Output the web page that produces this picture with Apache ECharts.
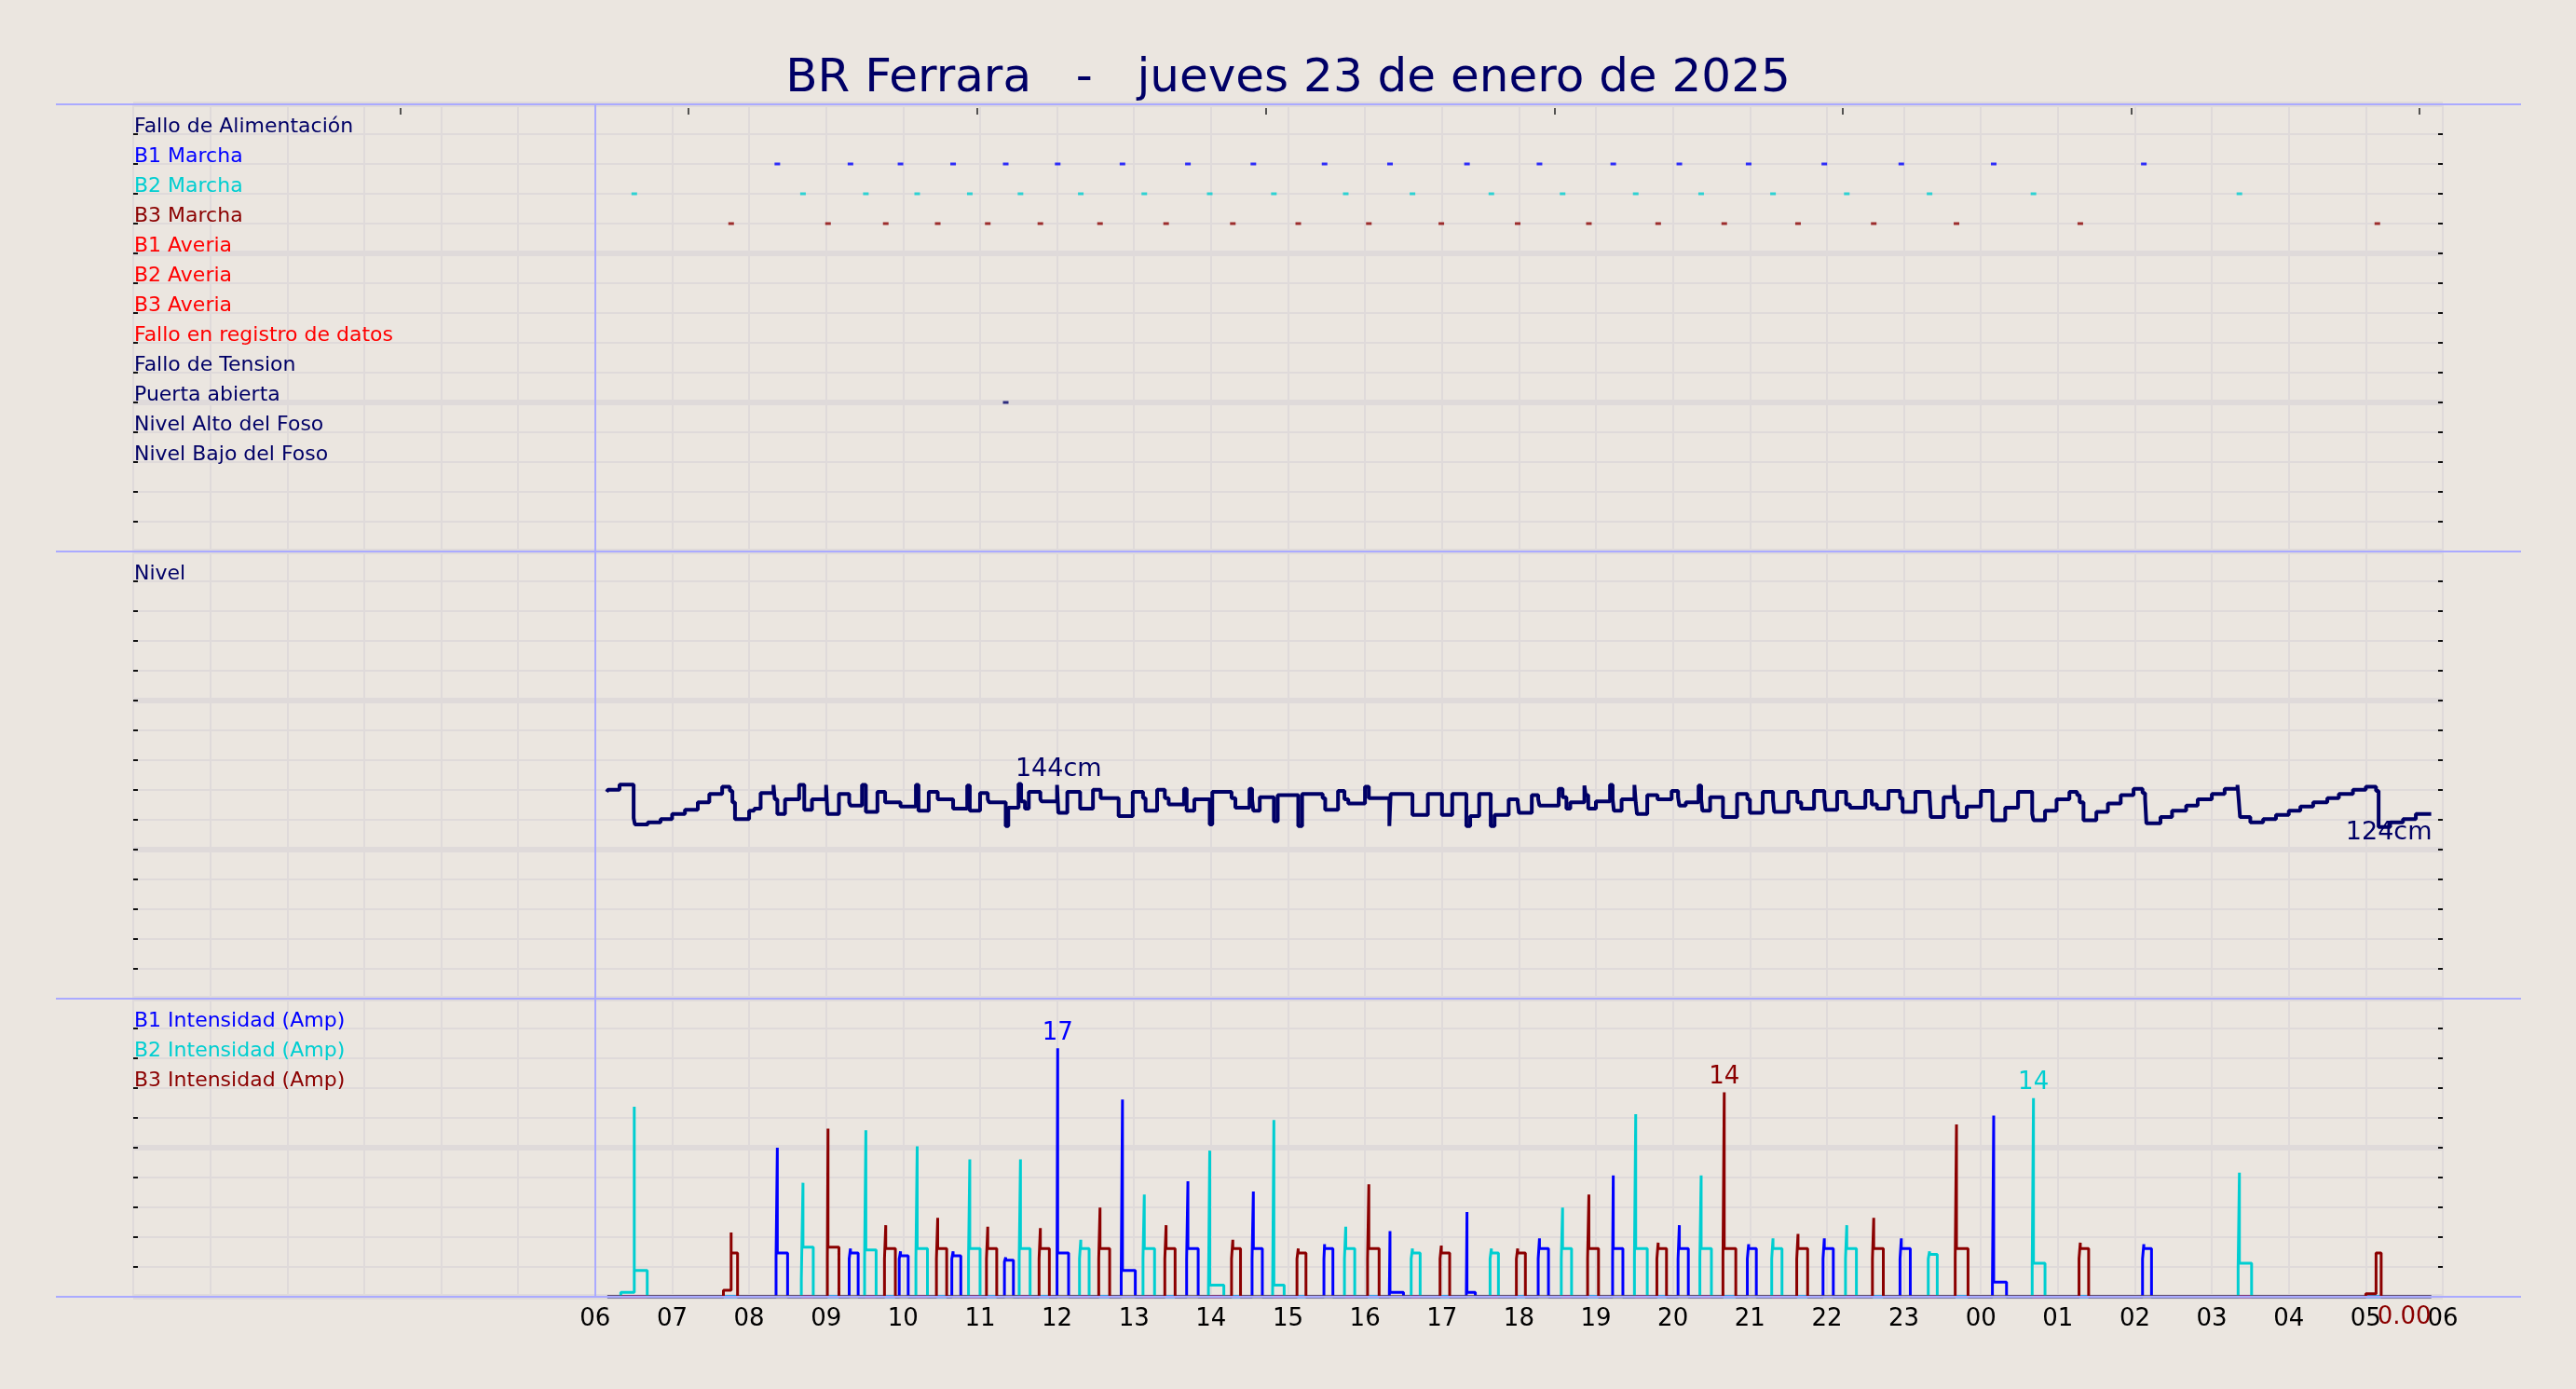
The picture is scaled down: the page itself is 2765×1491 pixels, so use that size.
<!DOCTYPE html>
<html>
<head>
<meta charset="utf-8">
<script src="https://cdn.jsdelivr.net/npm/echarts@6/dist/echarts.min.js"></script>
<style>
html,body{margin:0;padding:0;background:#EBE6E0;}
#c{width:2765px;height:1491px;}
</style>
</head>
<body>
<div id="c"></div>
<script>
// ---------------- DATA (times in minutes from 00:00 of 23/01/2025) ----------------
const titleText = 'BR Ferrara   -   jueves 23 de enero de 2025';

const eventRows = ['Fallo de Alimentación','B1 Marcha','B2 Marcha','B3 Marcha','B1 Averia','B2 Averia','B3 Averia',
  'Fallo en registro de datos','Fallo de Tension','Puerta abierta','Nivel Alto del Foso','Nivel Bajo del Foso'];
const eventRowColors = ['#000066','#0000FF','#00CED1','#8B0000','#FF0000','#FF0000','#FF0000',
  '#FF0000','#000066','#000066','#000066','#000066'];

const b1MarchaT = [502,559,598,639,680,720.5,771,822,873,928.5,979.5,1039.5,1096,1153.5,1205,1259,1318,1378,1450,1567];
const b2MarchaT = [390.5,522,571,611,652,691.5,738.5,788,839,889,945,997,1058.5,1114,1171,1222,1278,1335.5,1400,1481,1641.5];
const b3MarchaT = [466,541.5,586.5,627,666,707,753.5,805,857,908,963,1019.5,1079,1134.5,1188.5,1240,1297.5,1356.5,1421,1517.5,1749];
const puertaT = [680];

const nivelLabel = 'Nivel';
// [minute, level cm] : each level holds until the next point
const nivelData = [
[369,140.5],[370,141.5],[379,144],[390,128],[391,125],[401,126],[411,127.5],[420,130],[430,132],[440,135.5],
[449,139.5],[459,143],[465,141],[467,135.5],[469,127.5],[480,131.5],[484,132.5],[489,140],[499,143.8],[500,137],
[502,130],[508,137],[519,143.8],[523,132],[529,137],[540,143.8],[541,130],[550,139.5],[558,135.5],[559,134],
[568,143.8],[571,131],[580,140.5],[586,135.5],[598,133.5],[610,143.8],[612,131.5],[620,140.5],[627,137],[639,132.5],
[650,143.5],[652,131.5],[660,140],[666,137],[667,135.5],[680,124.2],[682,133],[690,144.3],[692,136],[695,132.5],
[698,140.5],[707,137],[708,136],[720,143.8],[721,130.5],[728,140.5],[738,132.5],[748,141.5],[754,137.5],[768,129],
[779,140.5],[787,137.5],[789,131.5],[798,141.5],[804,137.5],[807,134.5],[819,142],[821,131.5],[827,137],[839,125],
[841,140.5],[856,137.5],[859,133],[870,142],[872,137],[873,131.5],[878,138],[889,126.5],[892,139],[908,124.2],
[911,139.5],[927,137.5],[929,132],[939,141],[944,137],[947,135],[960,143],[963,137.5],[979,124.2],[980,139.5],
[997,129.5],[1009,139.5],[1020,129.5],[1028,139.5],[1039,124.2],[1042,129],[1049,139.5],[1058,124.2],[1061,129.5],[1072,137],
[1079,135.5],[1080,130.5],[1090,139],[1095,137],[1096,134],[1111,142],[1114,138],[1117,132.5],[1120,135.5],[1131,143.5],
[1132,139],[1134,132.5],[1140,136],[1151,143.8],[1153,137],[1154,131.5],[1160,137],[1170,143.8],[1171,135.5],[1172,130],
[1180,139],[1188,137],[1199,141],[1204,138],[1205,134],[1210,135.5],[1220,143.5],[1222,137],[1223,131.5],[1229,138],
[1239,128.5],[1250,139.5],[1258,137],[1260,130.5],[1270,140.5],[1278,136.5],[1279,131],[1290,140.5],[1297,135.5],[1300,132.5],
[1310,141],[1318,137],[1319,132],[1328,140.5],[1335,134.5],[1338,133],[1350,141],[1355,134.5],[1359,132.5],[1368,141],
[1377,137.5],[1379,131],[1389,140.5],[1400,139],[1401,128.5],[1411,138],[1419,143.8],[1420,135.5],[1422,128.5],[1429,133.5],
[1440,141],[1449,127],[1459,133],[1469,140.5],[1480,130],[1481,127],[1490,131.5],[1499,137],[1509,140.5],[1515,139],
[1517,135.5],[1520,127],[1530,131],[1539,135],[1549,139],[1559,142],[1566,140],[1568,137],[1569,125.5],[1580,128.5],
[1589,131.5],[1600,134],[1609,137],[1620,139.5],[1630,142],[1640,143.8],[1641,136.5],[1642,128.5],[1650,126],[1660,127.5],
[1670,129.5],[1680,131.5],[1689,133.5],[1699,135.5],[1710,137.5],[1719,139.5],[1730,141.5],[1740,143],[1748,141],[1750,123.8],
[1759,126],[1769,127.5],[1779,130],[1791,130]
];
const nivelMaxAt = 690;   // point carrying the "144cm" label
const nivelMinAt = 1750;  // point carrying the "124cm" label

const intensLabels = ['B1 Intensidad (Amp)','B2 Intensidad (Amp)','B3 Intensidad (Amp)'];
const intensStart = 369.5, intensEnd = 1791;
// pulses: [preStart, preValue, peakTime, peakValue, runValue, stopTime]
const b1Pulses = [
[501,2.7,502,10.2,3.0,510],[558,2.6,559,3.3,3.0,565],[597,2.6,598,3.1,2.8,604],[638,2.6,639,3.1,2.8,645],
[679,2.4,680,2.7,2.5,686],[720,2.8,720.5,17.0,3.0,729],[770,1.5,771,13.5,1.8,781],[821,2.6,822,7.9,3.3,830],
[872,2.6,873,7.2,3.3,880],[928,2.6,928.5,3.6,3.3,935],[979,0.3,979.5,4.5,0.3,990],[1039,0.3,1039.5,5.8,0.3,1046],
[1095,2.6,1096,4.0,3.3,1103],[1153,2.6,1153.5,8.3,3.3,1161],[1204,2.6,1205,4.9,3.3,1212],[1258,2.6,1259,3.6,3.3,1265],
[1317,2.6,1318,4.0,3.3,1325],[1377,2.6,1378,4.0,3.3,1385],[1449,0.8,1450,12.4,1.0,1460],[1566,2.6,1567,3.6,3.3,1573]
];
const b2Pulses = [
[380,0.3,390.5,13.0,1.8,400.6],[520.7,1.2,522,7.8,3.4,530],[570,2.6,571,11.4,3.2,579],[610,2.6,611,10.3,3.3,619],
[651,2.6,652,9.4,3.3,660],[690.5,2.6,691.5,9.4,3.3,699],[737.5,2.6,738.5,3.9,3.3,745],[787,2.6,788,7.0,3.3,796],
[838,0.5,839,10.0,0.8,850],[888,0.5,889,12.1,0.8,897],[944,2.6,945,4.8,3.3,952],[996,2.6,997,3.3,3.0,1003],
[1057.5,2.6,1058.5,3.3,3.0,1064],[1113,2.6,1114,6.1,3.3,1121],[1170,2.6,1171,12.5,3.3,1180],[1221,2.6,1222,8.3,3.3,1230],
[1277,2.6,1278,4.0,3.3,1285],[1334.5,2.6,1335.5,4.9,3.3,1343],[1399,2.6,1400,3.1,2.9,1406],[1480,2.0,1481,13.6,2.3,1490],
[1640.5,2.0,1641.5,8.5,2.3,1651]
];
const b3Pulses = [
[460,0.45,466,4.4,3.0,471],[541,2.5,541.5,11.5,3.4,550],[585.5,2.6,586.5,4.9,3.3,594],[626,2.6,627,5.4,3.3,634],
[665,2.6,666,4.8,3.3,673],[706,2.6,707,4.7,3.3,714],[752.5,2.6,753.5,6.1,3.3,761],[804,2.6,805,4.9,3.3,812],
[856,2.6,857,3.9,3.3,863],[907,2.6,908,3.3,3.0,914],[962,2.6,963,7.7,3.3,971],[1018.5,2.6,1019.5,3.5,3.0,1026],
[1078,2.6,1079,3.3,3.0,1085],[1133.5,2.6,1134.5,7.0,3.3,1142],[1187.5,2.6,1188.5,3.7,3.3,1195],[1239,2.6,1240,14.0,3.3,1249],
[1296.5,2.6,1297.5,4.3,3.3,1305],[1355.5,2.6,1356.5,5.4,3.3,1364],[1420,2.6,1421,11.8,3.3,1430],[1516.5,2.6,1517.5,3.7,3.3,1524],
[1740,0.2,1748,3.0,3.0,1752]
];
const topTickT = [208,432.5,658,883,1107.5,1332,1557,1781.5];

// ---------------- STYLE ----------------
const BG='#EBE6E0', GRIDC='#DFDADA', SEP='#AAAAFF', NAVY='#000066', BLUE='#0000FF', CYAN='#00CED1', DRED='#8B0000';
const FONT='DejaVu Sans';
const X0=143, X1=2622;

function pulsesToLine(pulses){
  const pts=[[intensStart,0]];
  for(const p of pulses){ pts.push([p[0],p[1]],[p[2],p[3]],[p[2],p[4]],[p[5],0]); }
  pts.push([intensEnd,0]);
  return pts;
}
function levelAt(t){ const p=nivelData.find(d=>d[0]===t); return p?p[1]:null; }

function rowAxes(g, rows, labels, colors, fs){
  const rich={};
  labels.forEach((l,i)=>{ rich['r'+i]={color:colors[i],fontSize:fs,fontFamily:FONT,lineHeight:16}; });
  return [
    {type:'value',gridIndex:g,min:0,max:rows,interval:1,inverse:true,position:'left',
     axisLine:{show:false,onZero:false},axisTick:{show:true,inside:true,length:5,lineStyle:{color:'#111',width:2}},
     axisLabel:{show:true,inside:true,margin:1,verticalAlign:'bottom',
       formatter:(v)=>{const i=Math.round(v)-1; return (i>=0&&labels[i])?('{r'+i+'|'+labels[i]+'}'):'';},rich:rich},
     splitLine:{show:true,lineStyle:{color:GRIDC,width:2}}},
    {type:'value',gridIndex:g,min:0,max:rows,interval:1,inverse:true,position:'right',
     axisLine:{show:false,onZero:false},axisTick:{show:true,inside:true,length:5,lineStyle:{color:'#111',width:2}},
     axisLabel:{show:false},splitLine:{show:false}},
    {type:'value',gridIndex:g,min:0,max:rows,interval:5,inverse:true,position:'left',
     axisLine:{show:false,onZero:false},axisTick:{show:false},axisLabel:{show:false},
     splitLine:{show:true,lineStyle:{color:GRIDC,width:6}}}
  ];
}

const yAxes = [].concat(
  rowAxes(0,15,eventRows,eventRowColors,22),                       // 0,1,2
  rowAxes(1,15,[nivelLabel],[NAVY],22),                            // 3,4,5
  [{type:'value',gridIndex:1,min:42,max:255,show:false,axisLine:{onZero:false}}],   // 6
  rowAxes(2,10,intensLabels,[BLUE,CYAN,DRED],22),                  // 7,8,9
  [{type:'value',gridIndex:2,min:0,max:20.4,show:false,axisLine:{onZero:false}}]    // 10
);

function timeAxis(g, showLabels){
  return {type:'value',gridIndex:g,min:0,max:1800,interval:60,position:'bottom',
    axisLine:{show:false,onZero:false},axisTick:{show:false},
    axisLabel:{show:showLabels,color:'#000',fontSize:26,fontFamily:FONT,margin:11,showMinLabel:true,showMaxLabel:true,
      formatter:(v)=> v<360 ? '' : String(Math.floor(v/60)%24).padStart(2,'0')},
    splitLine:{show:true,lineStyle:{color:GRIDC,width:2}}};
}
const xAxes=[timeAxis(0,false),timeAxis(1,false),timeAxis(2,true),
  {type:'value',gridIndex:0,position:'top',min:0,max:1800,offset:-4,
   axisLine:{show:false,onZero:false},axisLabel:{show:false},splitLine:{show:false},
   axisTick:{show:true,inside:true,length:7,customValues:topTickT,lineStyle:{color:'#222',width:1.5}}}];

const startLine = {symbol:'none',silent:true,animation:false,label:{show:false},
  lineStyle:{color:SEP,width:2,type:'solid'},data:[{xAxis:360}]};

function marcha(name,times,row,color,withLine){
  const s={name:name,type:'scatter',xAxisIndex:0,yAxisIndex:0,symbol:'rect',symbolSize:[6,3],
    itemStyle:{color:color},data:times.map(t=>[t,row]),z:5};
  if(withLine) s.markLine=startLine;
  return s;
}
function maxMark(color){
  return {symbol:'circle',symbolSize:1,itemStyle:{color:'rgba(0,0,0,0)'},
    label:{show:true,position:'top',distance:3,color:color,fontSize:26,fontFamily:FONT,
      formatter:(p)=>String(Math.round(p.value))},
    data:[{type:'max'}]};
}
function intensSeries(name,pulses,color){
  return {name:name,type:'line',xAxisIndex:2,yAxisIndex:10,step:'end',symbol:'none',showSymbol:false,
    lineStyle:{color:color,width:3},itemStyle:{color:color},data:pulsesToLine(pulses),z:3,
    markPoint:maxMark(color)};
}

const b3 = intensSeries('B3',b3Pulses,DRED);
b3.markPoint.data.push({coord:[intensEnd,0],value:0,
  label:{position:'inside',offset:[-29,22],formatter:(p)=>Number(p.value).toFixed(2)}});
const b1 = intensSeries('B1',b1Pulses,BLUE);
b1.markLine = startLine;

const vMax=levelAt(nivelMaxAt), vMin=levelAt(nivelMinAt);

const option = {
  backgroundColor: BG,
  animation:false,
  textStyle:{fontFamily:FONT},
  title:{text:titleText,left:'center',top:55,textStyle:{fontSize:50,fontWeight:'normal',color:NAVY,fontFamily:FONT}},
  grid:[
    {left:X0,right:2765-X1,top:112,height:480},
    {left:X0,right:2765-X1,top:592,height:480},
    {left:X0,right:2765-X1,top:1072,height:320}
  ],
  xAxis:xAxes,
  yAxis:yAxes,
  series:[
    marcha('B1 Marcha',b1MarchaT,2,BLUE,true),
    marcha('B2 Marcha',b2MarchaT,3,CYAN,false),
    marcha('B3 Marcha',b3MarchaT,4,DRED,false),
    marcha('Puerta abierta',puertaT,10,NAVY,false),
    {name:'Nivel',type:'line',xAxisIndex:1,yAxisIndex:6,step:'end',symbol:'none',showSymbol:false,
     lineStyle:{color:NAVY,width:4},itemStyle:{color:NAVY},data:nivelData,z:3,markLine:startLine,
     markPoint:{symbol:'circle',symbolSize:1,itemStyle:{color:'rgba(0,0,0,0)'},
       label:{show:true,position:'inside',color:NAVY,fontSize:27,fontFamily:FONT},
       data:[
         {coord:[nivelMaxAt,vMax],value:vMax,label:{offset:[43,-15],formatter:(p)=>Math.round(p.value)+'cm'}},
         {coord:[nivelMinAt,vMin],value:vMin,label:{offset:[11,6],formatter:(p)=>Math.round(p.value)+'cm'}}
       ]}},
    b1,
    intensSeries('B2',b2Pulses,CYAN),
    b3
  ],
  graphic:[112,592,1072,1392].map(y=>({type:'line',z:100,silent:true,
    shape:{x1:60,y1:y,x2:2706,y2:y},style:{stroke:SEP,lineWidth:2}}))
};

const chart = echarts.init(document.getElementById('c'),null,{renderer:'canvas',width:2765,height:1491});
chart.setOption(option);
</script>
</body>
</html>
